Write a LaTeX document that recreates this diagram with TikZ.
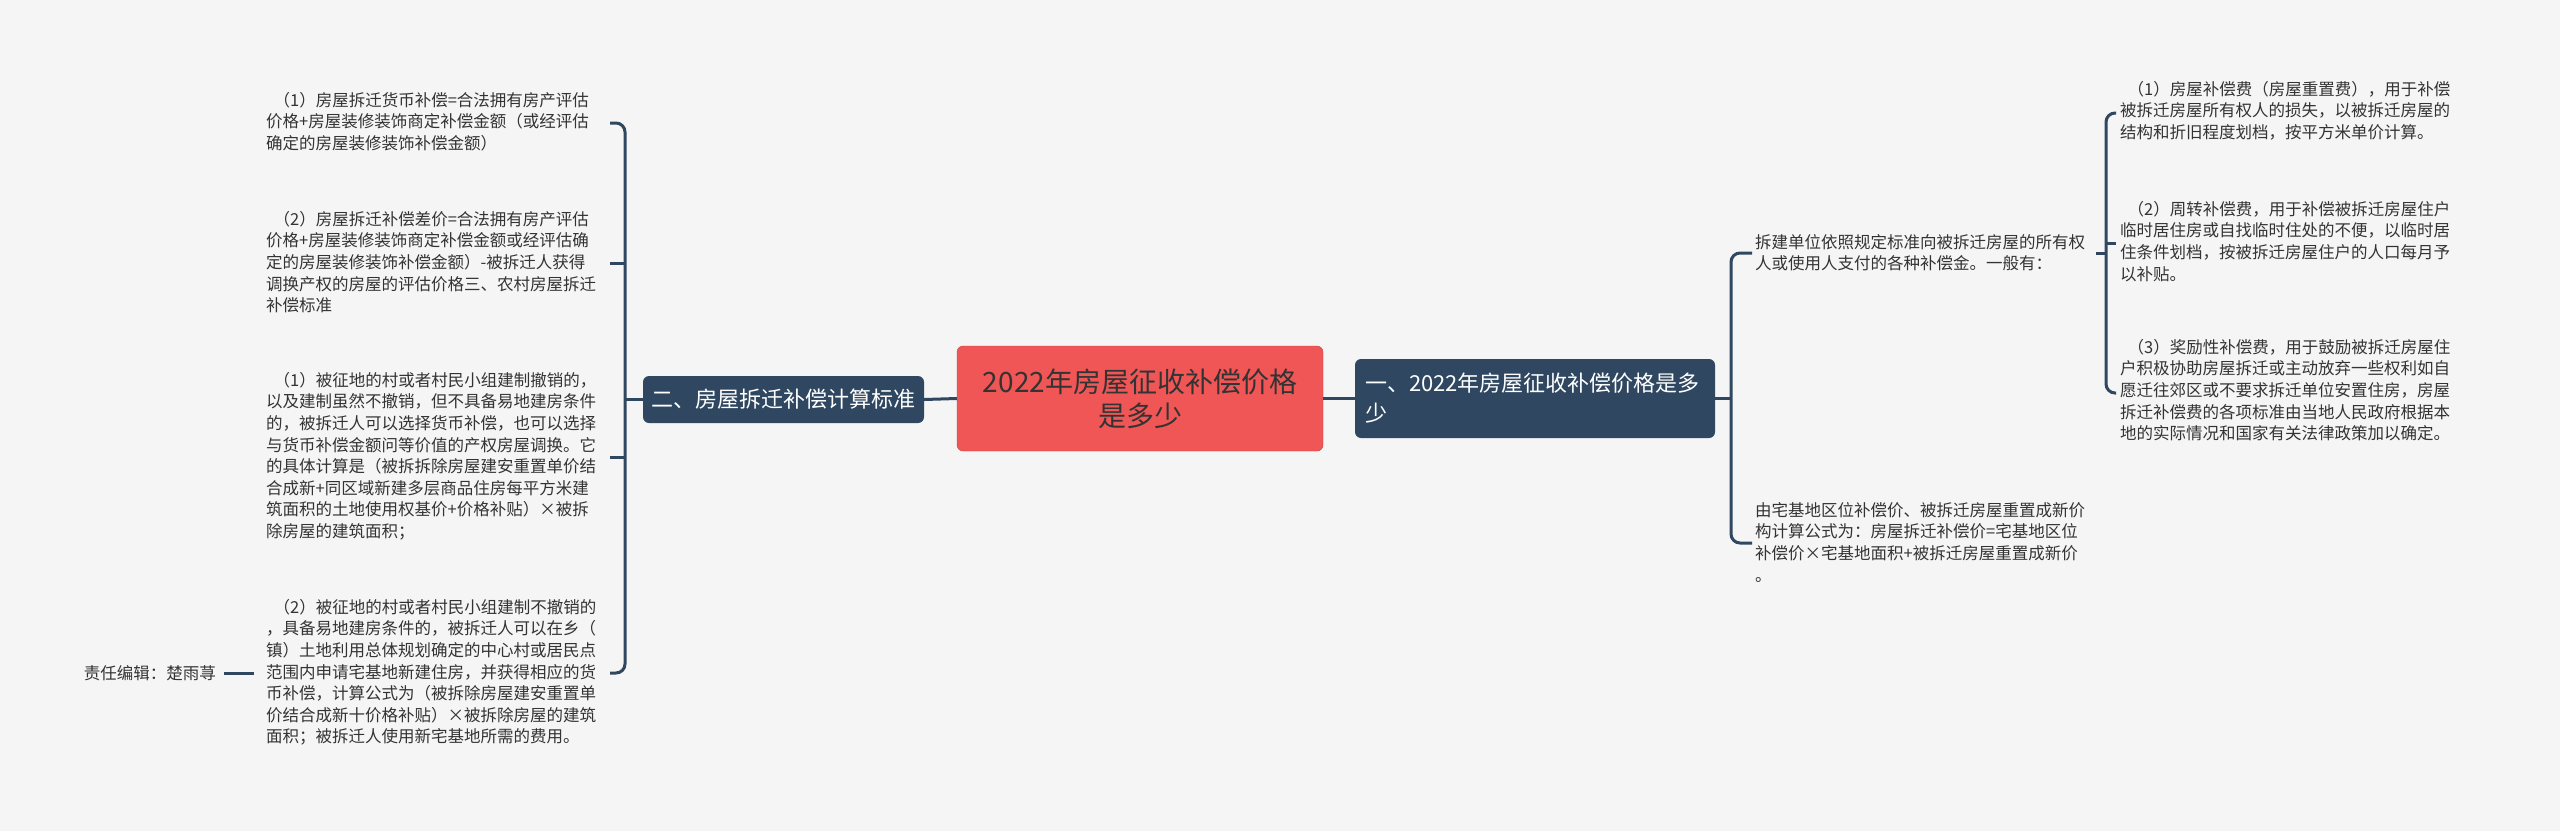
\documentclass[tikz,border=0pt]{standalone}
\usepackage{fontspec}
\setmainfont{Noto Sans CJK SC}
\definecolor{bg}{HTML}{F5F5F5}
\definecolor{navy}{HTML}{2F4760}
\definecolor{redn}{HTML}{F05656}
\definecolor{txt}{HTML}{333333}
\begin{document}
\begin{tikzpicture}[x=1pt,y=-1pt,
  conn/.style={draw=navy,line width=3pt,rounded corners=9pt},
  leaf/.style={anchor=north west,align=left,inner sep=0pt,text=txt,font=\fontsize{16.5}{21.6}\selectfont},
  topic/.style={fill=navy,text=white,rounded corners=6pt,align=left,inner sep=8pt,font=\fontsize{22}{30}\selectfont}]
\fill[bg] (0,0) rectangle (2560,831);
\useasboundingbox (0,0) rectangle (2560,831);
% center
\node[fill=redn,draw=redn!80!black,rounded corners=6pt,minimum width=366pt,minimum height=105pt,align=center,text=txt,font=\fontsize{28}{34}\selectfont] (c) at (1140,398.5) {2022年房屋征收补偿价格\\是多少};
\node[topic,minimum width=360pt,minimum height=79pt,text width=340pt] (r) at (1535,398.5) {一、2022年房屋征收补偿价格是多\\少};
\node[topic,minimum width=281pt,minimum height=47pt] (l) at (783.5,399.5) {二、房屋拆迁补偿计算标准};
\draw[conn] (c.east) -- (r.west);
\draw[conn] (c.west) -- (l.west-|l.east);
% right branch
\node[leaf] (r1) at (1755,234) {拆建单位依照规定标准向被拆迁房屋的所有权\\人或使用人支付的各种补偿金。一般有：};
\node[leaf] (r2) at (1755,502) {由宅基地区位补偿价、被拆迁房屋重置成新价\\构计算公式为：房屋拆迁补偿价=宅基地区位\\补偿价×宅基地面积+被拆迁房屋重置成新价\\。};
\coordinate (rb) at (1731,398.5);
\coordinate (r1c) at (1752,253);
\coordinate (r2c) at (1752,543);
\draw[conn] (r.east) -- (rb);
\draw[conn] (r1c) -| (rb) |- (r2c);
% sub right
\node[leaf] (s1) at (2120,81) {\ \ （1）房屋补偿费（房屋重置费），用于补偿\\被拆迁房屋所有权人的损失，以被拆迁房屋的\\结构和折旧程度划档，按平方米单价计算。};
\node[leaf] (s2) at (2120,201) {\ \ （2）周转补偿费，用于补偿被拆迁房屋住户\\临时居住房或自找临时住处的不便，以临时居\\住条件划档，按被拆迁房屋住户的人口每月予\\以补贴。};
\node[leaf] (s3) at (2120,339) {\ \ （3）奖励性补偿费，用于鼓励被拆迁房屋住\\户积极协助房屋拆迁或主动放弃一些权利如自\\愿迁往郊区或不要求拆迁单位安置住房，房屋\\拆迁补偿费的各项标准由当地人民政府根据本\\地的实际情况和国家有关法律政策加以确定。};
\coordinate (sp) at (2096,253);
\coordinate (sb) at (2106,253);
\coordinate (s1c) at (2116,113);
\coordinate (s2c) at (2116,243);
\coordinate (s3c) at (2116,393);
\draw[conn] (sp) -- (sb);
\draw[conn] (s1c) -| (sb) |- (s3c);
\draw[conn] (s2c) -- (s2c-|sb);
% left branch
\node[leaf] (b1) at (266,92) {\ \ （1）房屋拆迁货币补偿=合法拥有房产评估\\价格+房屋装修装饰商定补偿金额（或经评估\\确定的房屋装修装饰补偿金额）};
\node[leaf] (b2) at (266,211) {\ \ （2）房屋拆迁补偿差价=合法拥有房产评估\\价格+房屋装修装饰商定补偿金额或经评估确\\定的房屋装修装饰补偿金额）-被拆迁人获得\\调换产权的房屋的评估价格三、农村房屋拆迁\\补偿标准};
\node[leaf] (b3) at (266,372) {\ \ （1）被征地的村或者村民小组建制撤销的，\\以及建制虽然不撤销，但不具备易地建房条件\\的，被拆迁人可以选择货币补偿，也可以选择\\与货币补偿金额问等价值的产权房屋调换。它\\的具体计算是（被拆拆除房屋建安重置单价结\\合成新+同区域新建多层商品住房每平方米建\\筑面积的土地使用权基价+价格补贴）×被拆\\除房屋的建筑面积；};
\node[leaf] (b4) at (266,599) {\ \ （2）被征地的村或者村民小组建制不撤销的\\，具备易地建房条件的，被拆迁人可以在乡（\\镇）土地利用总体规划确定的中心村或居民点\\范围内申请宅基地新建住房，并获得相应的货\\币补偿，计算公式为（被拆除房屋建安重置单\\价结合成新十价格补贴）×被拆除房屋的建筑\\面积；被拆迁人使用新宅基地所需的费用。};
\coordinate (lb) at (625,399.5);
\coordinate (b1c) at (610,123);
\coordinate (b2c) at (610,263);
\coordinate (b3c) at (610,457);
\coordinate (b4c) at (610,673);
\draw[conn] (l.west) -- (lb);
\draw[conn] (b1c) -| (lb) |- (b4c);
\draw[conn] (b2c) -- (b2c-|lb);
\draw[conn] (b3c) -- (b3c-|lb);
% editor
\node[anchor=east,inner sep=0pt,text=txt,font=\fontsize{16.5}{21.6}\selectfont] (ed) at (216,673) {责任编辑：楚雨荨};
\coordinate (edc) at (254,673);
\draw[draw=navy,line width=3pt] (ed.east) ++(8,0) -- (edc);
\end{tikzpicture}
\end{document}
